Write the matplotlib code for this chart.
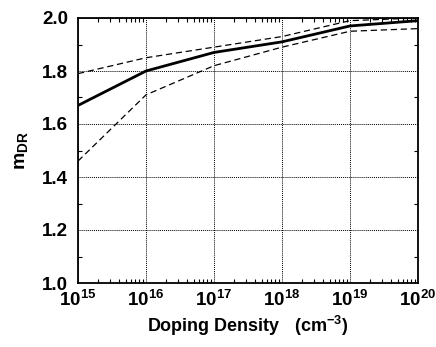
import numpy as np
import matplotlib.pyplot as plt
from matplotlib.ticker import LogLocator, MultipleLocator, FixedLocator

plt.rcParams['font.family'] = ['Liberation Sans', 'DejaVu Sans']
plt.rcParams['font.weight'] = 'bold'
plt.rcParams['mathtext.fontset'] = 'custom'
plt.rcParams['mathtext.rm'] = 'Liberation Sans:bold'
plt.rcParams['mathtext.bf'] = 'Liberation Sans:bold'
plt.rcParams['mathtext.it'] = 'Liberation Sans:bold'

# データ
doping = [1e15, 1e16, 1e17, 1e18, 1e19, 1e20]
m_mid = [1.67, 1.80, 1.87, 1.91, 1.97, 1.99]
m_upper = [1.79, 1.85, 1.89, 1.93, 1.99, 2.00]
m_lower = [1.46, 1.71, 1.82, 1.89, 1.95, 1.96]
xtick_labels = ['$10^{15}$', '$10^{16}$', '$10^{17}$',
                '$10^{18}$', '$10^{19}$', '$10^{20}$']
ytick_labels = ['1.0', '1.2', '1.4', '1.6', '1.8', '2.0']

fig = plt.figure(figsize=(4.36, 3.47), dpi=100)
ax = fig.add_axes([78 / 436, 1 - 283 / 347, 340 / 436, 265 / 347])

ax.plot(doping, m_mid, color='black', lw=2.0)
ax.plot(doping, m_upper, color='black', lw=0.9, dashes=(5, 3))
ax.plot(doping, m_lower, color='black', lw=0.9, dashes=(5, 3))

ax.set_xscale('log')
ax.set_xlim(1e15, 1e20)
ax.set_ylim(1.0, 2.0)
ax.xaxis.set_major_locator(FixedLocator(doping))
ax.xaxis.set_minor_locator(LogLocator(base=10, subs=np.arange(2, 10)))
ax.set_xticklabels(xtick_labels)
ax.yaxis.set_minor_locator(MultipleLocator(0.1))
ax.set_yticks([1.0, 1.2, 1.4, 1.6, 1.8, 2.0])
ax.set_yticklabels(ytick_labels)

ax.grid(True, which='major', color='black', linestyle=(0, (1, 1)), lw=0.7)
ax.tick_params(which='both', direction='in', top=True, right=True, labelsize=13.5)
ax.tick_params(which='major', length=0, pad=7)
ax.tick_params(axis='x', which='major', pad=5)
ax.tick_params(which='minor', length=3, width=0.8)
for s in ax.spines.values():
    s.set_linewidth(1.3)

ax.set_xlabel('Doping Density   (cm$^{-3}$)', fontsize=13, fontweight='bold', labelpad=3)
ax.set_ylabel('m$_{DR}$', fontsize=14, fontweight='bold', labelpad=9)

fig.savefig('out.png', dpi=100)
